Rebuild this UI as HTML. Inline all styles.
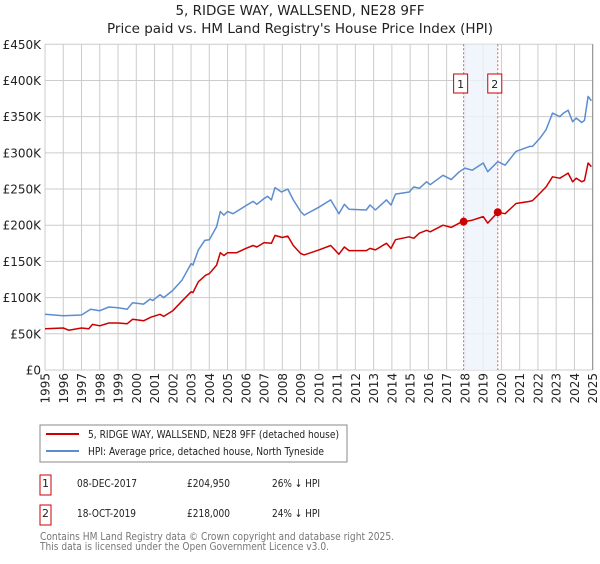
<!DOCTYPE html>
<html><head><meta charset="utf-8"><style>
body{margin:0;background:#fff;font-family:"DejaVu Sans","Liberation Sans",sans-serif;}
svg text{font-family:"DejaVu Sans","Liberation Sans",sans-serif;}
</style></head><body>
<svg id="chart" width="600" height="560" xmlns="http://www.w3.org/2000/svg">
<text x="300" y="15" text-anchor="middle" font-size="13.5" fill="#222">5, RIDGE WAY, WALLSEND, NE28 9FF</text>
<text x="300" y="33" text-anchor="middle" font-size="13.5" fill="#222">Price paid vs. HM Land Registry's House Price Index (HPI)</text>
<g id="grid"></g><g id="marks"></g><g id="axes"></g>
<g>
<rect x="40" y="425" width="307" height="37" fill="#fff" stroke="#888"/>
<line x1="46" y1="434" x2="79" y2="434" stroke="#cc0000" stroke-width="2"/>
<text x="88" y="438" font-size="11" fill="#222" textLength="251" lengthAdjust="spacingAndGlyphs">5, RIDGE WAY, WALLSEND, NE28 9FF (detached house)</text>
<line x1="46" y1="451" x2="79" y2="451" stroke="#5b8dd0" stroke-width="2"/>
<text x="88" y="455" font-size="11" fill="#222" textLength="236" lengthAdjust="spacingAndGlyphs">HPI: Average price, detached house, North Tyneside</text>
</g>
<g font-size="11" fill="#222">
<rect x="40" y="475" width="11" height="20" fill="#fff" stroke="#cc0000"/><text x="45.5" y="487" text-anchor="middle">1</text>
<text x="77" y="487" textLength="60" lengthAdjust="spacingAndGlyphs">08-DEC-2017</text><text x="187" y="487" textLength="43" lengthAdjust="spacingAndGlyphs">£204,950</text><text x="272" y="487" textLength="48" lengthAdjust="spacingAndGlyphs">26% ↓ HPI</text></g>
<g font-size="11" fill="#222">
<rect x="40" y="505" width="11" height="20" fill="#fff" stroke="#cc0000"/><text x="45.5" y="517" text-anchor="middle">2</text>
<text x="77" y="517" textLength="59" lengthAdjust="spacingAndGlyphs">18-OCT-2019</text><text x="187" y="517" textLength="43" lengthAdjust="spacingAndGlyphs">£218,000</text><text x="272" y="517" textLength="48" lengthAdjust="spacingAndGlyphs">24% ↓ HPI</text></g>
<text x="40" y="540" font-size="11" fill="#777" textLength="354" lengthAdjust="spacingAndGlyphs">Contains HM Land Registry data © Crown copyright and database right 2025.</text>
<text x="40" y="550" font-size="11" fill="#777" textLength="289" lengthAdjust="spacingAndGlyphs">This data is licensed under the Open Government Licence v3.0.</text>
</svg>
<script>
const hpiYears=[1995,1996,1997,1997.5,1998,1998.5,1999,1999.5,1999.8,2000.4,2000.75,2000.9,2001.3,2001.5,2002,2002.5,2003,2003.1,2003.4,2003.75,2004,2004.4,2004.6,2004.8,2005,2005.3,2006,2006.4,2006.6,2007,2007.2,2007.4,2007.6,2007.95,2008.3,2008.6,2009,2009.2,2010,2010.65,2011.1,2011.4,2011.65,2012.6,2012.8,2013.1,2013.7,2013.95,2014.2,2014.95,2015.2,2015.5,2015.9,2016.1,2016.8,2017.25,2017.7,2018,2018.4,2019,2019.25,2019.8,2020.2,2020.8,2021.55,2021.7,2022.1,2022.45,2022.8,2023.2,2023.4,2023.65,2023.9,2024.1,2024.4,2024.55,2024.75,2024.93];
const hpiValues=[77,75,76,84,82,87,86,84,93,91,98,96,104,100,110,124,147,145,166,179,180,198,219,214,219,216,227,233,229,237,240,235,252,246,250,235,219,214,225,235,216,229,222,221,228,221,235,228,243,246,253,251,260,256,269,263,274,279,276,286,274,288,283,302,309,309,320,332,355,350,355,359,343,348,342,345,378,372];
const ppYears=[1995,1996,1996.3,1997,1997.4,1997.6,1998,1998.5,1999,1999.5,1999.8,2000.4,2000.8,2001.3,2001.5,2002,2002.5,2003,2003.1,2003.4,2003.8,2004,2004.4,2004.6,2004.8,2005,2005.5,2006,2006.4,2006.6,2007,2007.4,2007.6,2008,2008.3,2008.6,2009,2009.2,2010,2010.65,2011.1,2011.4,2011.65,2012.6,2012.8,2013.1,2013.7,2013.95,2014.2,2014.95,2015.2,2015.5,2015.9,2016.1,2016.8,2017.25,2017.7,2017.93,2018.4,2019,2019.25,2019.8,2020.2,2020.8,2021.55,2021.7,2022.1,2022.45,2022.8,2023.2,2023.4,2023.65,2023.9,2024.1,2024.4,2024.55,2024.75,2024.93];
const ppValues=[57,58,55,58,57,63,61,65,65,64,70,68,73,77,74,82,95,108,107,122,131,133,145,162,158,162,162,168,172,170,176,175,186,183,185,172,161,159,166,172,160,170,165,165,168,166,175,168,180,184,182,189,193,191,200,197,203,204.95,207,212,203,218,216,230,233,234,244,253,267,265,268,272,260,265,260,262,286,281];
const saleYears=[2017.93,2019.8];
const saleValues=[204.95,218];
const saleLabels=["1","2"];
const yTicks=[0,50,100,150,200,250,300,350,400,450];
const yTickLabels=["£0","£50K","£100K","£150K","£200K","£250K","£300K","£350K","£400K","£450K"];
const xTicks=[1995,1996,1997,1998,1999,2000,2001,2002,2003,2004,2005,2006,2007,2008,2009,2010,2011,2012,2013,2014,2015,2016,2017,2018,2019,2020,2021,2022,2023,2024,2025];

const L=45,R=592.7,T=44.3,B=370;
const X=y=>L+(y-1995)*(R-L)/30;
const Y=v=>B-v*(B-T)/450;
const NS="http://www.w3.org/2000/svg";
function mk(parent,tag,attrs){const e=document.createElementNS(NS,tag);for(const k in attrs)e.setAttribute(k,attrs[k]);parent.appendChild(e);return e;}
const grid=document.getElementById('grid'),marks=document.getElementById('marks'),axes=document.getElementById('axes');
yTicks.forEach((v,i)=>{
  const g=mk(grid,'line',{x1:L,x2:R,y1:Y(v),y2:Y(v),stroke:'#cccccc','stroke-width':1});
  
  
  const t=mk(axes,'text',{x:L-4,y:Y(v)+4.5,'text-anchor':'end','font-size':12,fill:'#222'});
  t.textContent=yTickLabels[i];
  
  
});
xTicks.forEach(yr=>{
  const g=mk(grid,'line',{x1:X(yr),x2:X(yr),y1:T,y2:B,stroke:'#cccccc','stroke-width':1});
  
  
  const t=mk(axes,'text',{x:0,y:0,'text-anchor':'end','font-size':12,fill:'#222',transform:`translate(${X(yr)+4.5},${B+3}) rotate(-90)`});
  t.textContent=yr;
  
  
});
const band=mk(grid,'rect',{x:X(saleYears[0]),y:T,width:X(saleYears[1])-X(saleYears[0]),height:B-T,fill:'#eef2fb',opacity:0.8});


saleYears.forEach((yr,i)=>{
  const l=mk(marks,'line',{x1:X(yr),x2:X(yr),y1:T,y2:B,stroke:'#ee5555','stroke-width':1,'stroke-dasharray':'2,2'});
  
  
});
function path(xs,vs,color,name){
  const d=xs.map((x,i)=>(i?'L':'M')+X(x).toFixed(1)+','+Y(vs[i]).toFixed(1)).join('');
  const p=mk(marks,'path',{d:d,fill:'none',stroke:color,'stroke-width':1.5,'stroke-linejoin':'round'});
  
  
}
path(hpiYears,hpiValues,'#5b8dd0','hpi-line');
path(ppYears,ppValues,'#cc0000','price-paid-line');
saleYears.forEach((yr,i)=>{
  const c=mk(marks,'circle',{cx:X(yr),cy:Y(saleValues[i]),r:4,fill:'#cc0000'});
  
  
  const r=mk(marks,'rect',{x:X(yr)-10,y:74,width:14,height:19,fill:'#fff',stroke:'#cc0000'});
  
  
  const t=mk(marks,'text',{x:X(yr)-3,y:88,'text-anchor':'middle','font-size':11,fill:'#222'});
  t.textContent=saleLabels[i];
  
  
});
const ax=mk(axes,'line',{x1:R,x2:R,y1:T,y2:B,stroke:'#888','stroke-width':1});


</script>
</body></html>
